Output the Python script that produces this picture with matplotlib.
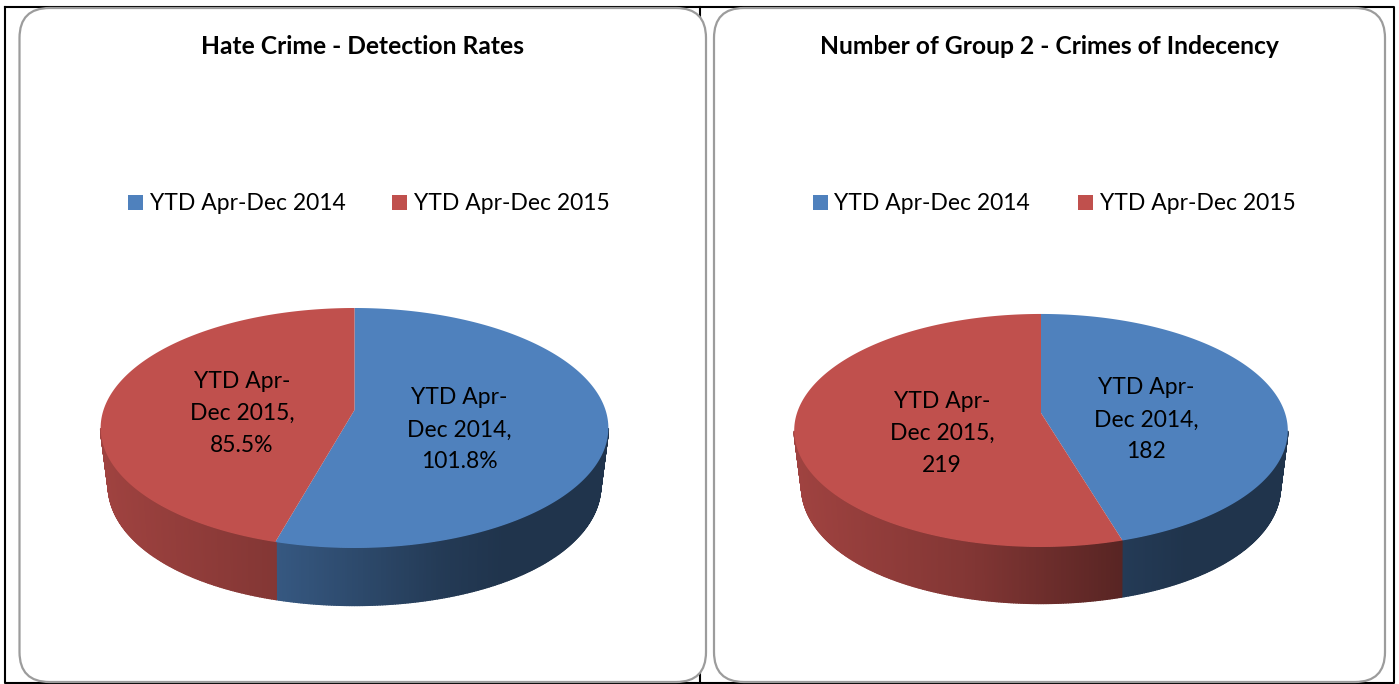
import matplotlib
matplotlib.use('Agg')
import matplotlib.pyplot as plt
import numpy as np
from matplotlib.collections import PolyCollection
from matplotlib.patches import FancyBboxPatch, Rectangle

plt.rcParams['font.family'] = ['Lato', 'DejaVu Sans']

series_names = ['YTD Apr-Dec 2014', 'YTD Apr-Dec 2015']
titles = ['Hate Crime - Detection Rates', 'Number of Group 2 - Crimes of Indecency']
hate_values = [101.8, 85.5]
hate_labels = ['101.8%', '85.5%']
indecency_values = [182, 219]
indecency_labels = ['182', '219']

colors = ['#4f81bd', '#c0504d']
KEEN = 0.15  # perspective of the tilted disc


def rim(angles, cx, cy, a, b):
    """Project points of the unit circle, angles clockwise from the top (degrees)."""
    t = np.radians(angles)
    w = 1 + KEEN * np.cos(t)
    return cx + a * np.sin(t) / w, cy - b * np.cos(t) / w


def shade(u):
    # side wall gets darker left to right
    return np.interp(u, [-1, -0.3, 0.35, 0.6, 1], [0.83, 0.68, 0.45, 0.40, 0.40])


def draw_pie(ax, values, cx, cy, a, b, half, depth):
    fracs = np.array(values) / np.sum(values)
    split = 360 * fracs[0]

    # side wall, thin strips along the front of the rim
    edges = np.arange(0, 360.01, 0.5)
    edges = edges[np.cos(np.radians(edges)) <= -KEEN + 0.001]

    def low(x):
        u = (x - cx) / half
        return cx + (x - cx) * (1 - 0.03 * u ** 2)

    # paint the two slices apart so the overlap of the strips stays inside each one
    for which, base in enumerate(colors):
        polys, cols = [], []
        for a0, a1 in zip(edges[:-1], edges[1:]):
            mid = (a0 + a1) / 2
            if (mid < split) != (which == 0):
                continue
            x0, y0 = rim(a0, cx, cy, a, b)
            x1, y1 = rim(a1, cx, cy, a, b)
            polys.append([(x0, y0), (x1, y1), (low(x1), y1 + depth), (low(x0), y0 + depth)])
            rgb = np.array(matplotlib.colors.to_rgb(base)) * shade(((x0 + x1) / 2 - cx) / half)
            cols.append(rgb)
        ax.add_collection(PolyCollection(polys, facecolors=cols, edgecolors=cols, linewidths=1.0, zorder=3))

    # top face
    start = 0
    for frac, color in zip(fracs, colors):
        ang = np.linspace(start, start + 360 * frac, 200)
        x, y = rim(ang, cx, cy, a, b)
        ax.fill(np.r_[cx, x], np.r_[cy, y], color=color, lw=0, zorder=4)
        start += 360 * frac


fig = plt.figure(figsize=(13.99, 6.84), dpi=100)
ax = fig.add_axes([0, 0, 1, 1])
ax.set_xlim(0, 1399)
ax.set_ylim(684, 0)
ax.axis('off')

# table lines behind the two cards
ax.plot([5, 5, 1393.5, 1393.5, 5], [7, 683, 683, 7, 7], color='black', lw=1.5, zorder=0)
ax.plot([700, 700], [7, 683], color='black', lw=1.5, zorder=0)
for x0, x1 in [(19.5, 706), (714, 1385)]:
    ax.add_patch(FancyBboxPatch((x0, 8), x1 - x0, 674, boxstyle='round,pad=0,rounding_size=30',
                                fc='white', ec='#9c9c9c', lw=1.6, zorder=1))

draw_pie(ax, hate_values, 354.5, 410, 251, 117.3, 254, 57.5)
draw_pie(ax, indecency_values, 1041, 413, 244, 113.9, 247, 56.5)

ax.text(362.5, 46, titles[0], ha='center', va='center', fontsize=17.7, fontweight='bold', zorder=6)
ax.text(1049.5, 46, titles[1], ha='center', va='center', fontsize=17.7, fontweight='bold', zorder=6)

# legends
for sq_x, txt_x, name, color in [(128, 150, series_names[0], colors[0]), (392, 414, series_names[1], colors[1]),
                                 (813, 834, series_names[0], colors[0]), (1078, 1100, series_names[1], colors[1])]:
    ax.add_patch(Rectangle((sq_x, 195), 15, 15, fc=color, ec='none', zorder=6))
    ax.text(txt_x, 203, name, ha='left', va='center', fontsize=16.5, zorder=6)

# slice labels
for x, y, head, tail, val in [(459, 430, 'YTD Apr-', 'Dec 2014,', hate_labels[0]),
                              (242, 413, 'YTD Apr-', 'Dec 2015,', hate_labels[1]),
                              (1146, 420, 'YTD Apr-', 'Dec 2014,', indecency_labels[0]),
                              (942, 433, 'YTD Apr-', 'Dec 2015,', indecency_labels[1])]:
    ax.text(x, y - 32, head, ha='center', va='center', fontsize=16.5, zorder=6)
    ax.text(x, y, tail, ha='center', va='center', fontsize=16.5, zorder=6)
    ax.text(x, y + 32, val, ha='center', va='center', fontsize=16.5, zorder=6)

fig.savefig('out.png', dpi=100)
